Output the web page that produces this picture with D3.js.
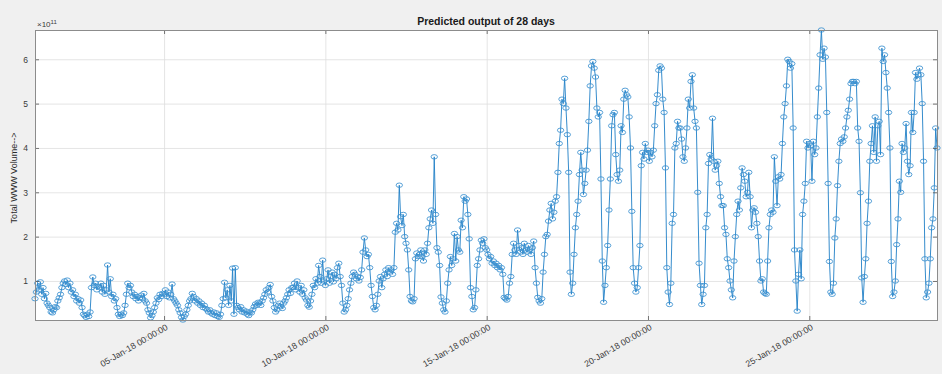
<!DOCTYPE html>
<html>
<head>
<meta charset="utf-8">
<script src="https://cdn.jsdelivr.net/npm/d3@7"></script>
<style>
  html, body { margin: 0; padding: 0; background: #f0f0f0; }
  svg { display: block; font-family: "Liberation Sans", Arial, Helvetica, sans-serif; }
</style>
</head>
<body>
<svg id="chart" width="942" height="374"></svg>
<script>
// Hourly predicted WWW volume, in units of 1e11, one row per day.
const startDate = "2018-01-01T00:00:00Z";

const week1 = [
  0.60,0.75,0.95,0.80,0.98,0.70,0.85,0.60,0.72,0.50,0.45,0.40,0.30,0.28,0.35,0.42,0.40,0.55,0.62,0.70,0.85,0.95,1.00,0.92,
  1.02,0.85,0.95,0.75,0.80,0.65,0.70,0.55,0.60,0.50,0.57,0.40,0.25,0.22,0.18,0.25,0.20,0.30,0.85,1.09,0.90,0.95,0.80,0.88,
  0.85,0.95,0.75,0.90,0.70,0.80,1.36,0.75,1.05,0.65,0.70,0.55,0.60,0.40,0.25,0.20,0.25,0.22,0.28,0.45,0.70,0.95,0.85,0.90,
  0.75,0.65,0.70,0.60,0.65,0.55,0.62,0.68,0.60,0.72,0.55,0.50,0.35,0.28,0.17,0.22,0.30,0.40,0.50,0.62,0.58,0.70,0.65,0.72,
  0.70,0.80,0.65,0.75,0.62,0.70,0.93,0.60,0.55,0.50,0.45,0.35,0.28,0.18,0.12,0.20,0.25,0.35,0.45,0.55,0.60,0.72,0.65,0.55,
  0.60,0.50,0.55,0.45,0.50,0.40,0.45,0.38,0.35,0.30,0.35,0.28,0.25,0.30,0.22,0.28,0.20,0.18,0.25,0.45,0.60,0.97,0.62,0.80,
  0.45,0.90,0.55,1.29,0.25,1.30,0.45,0.40,0.35,0.42,0.30,0.35,0.28,0.32,0.25,0.22,0.30,0.28,0.35,0.42,0.48,0.45,0.52,0.50
];
const week2 = [
  0.45,0.55,0.62,0.70,0.80,0.75,0.85,0.92,0.65,0.55,0.40,0.30,0.35,0.45,0.50,0.42,0.38,0.50,0.55,0.62,0.70,0.80,0.72,0.85,
  0.85,0.95,0.80,1.00,0.85,0.75,0.90,0.70,0.80,0.62,0.57,0.45,0.41,0.55,0.70,0.90,0.85,1.05,0.95,1.35,1.10,0.95,1.47,1.00,
  0.90,1.05,1.25,0.95,1.10,1.20,0.98,1.15,1.05,1.30,1.40,1.10,0.90,0.50,0.30,0.35,0.45,0.60,0.80,0.95,1.10,1.20,1.15,1.05,
  1.10,1.00,1.08,1.25,1.65,1.97,1.70,1.55,1.60,1.30,0.90,0.65,0.40,0.35,0.45,0.70,1.00,1.10,0.85,1.05,1.15,1.25,1.10,1.30,
  1.20,1.25,1.15,1.30,2.10,2.30,2.15,3.16,2.45,2.25,2.50,2.00,1.85,1.70,1.25,0.65,0.55,0.53,0.60,1.50,1.63,1.55,1.60,1.70,
  1.55,1.45,1.70,1.60,1.85,2.20,2.40,2.60,2.30,3.80,2.50,1.75,1.65,1.35,0.64,0.50,0.35,0.30,0.55,0.95,1.25,1.55,1.35,1.50,
  2.07,1.45,2.00,1.70,1.65,2.37,2.20,2.90,2.80,2.85,2.50,1.95,0.85,0.65,0.35,0.40,0.80,1.35,1.50,1.70,1.92,1.85,1.95,1.75
];
const week3 = [
  1.70,1.60,1.50,1.55,1.40,1.45,1.35,1.40,1.30,1.35,1.25,1.30,1.15,0.63,0.60,0.57,0.65,0.95,1.10,1.60,1.85,1.70,1.60,2.15,
  1.80,1.65,1.75,1.60,1.85,1.70,1.65,1.80,1.70,1.60,1.75,1.90,1.30,0.95,0.63,0.55,0.50,0.60,1.20,1.60,2.00,2.05,2.35,2.60,
  2.75,2.40,2.55,2.80,2.90,3.45,4.10,4.40,5.10,5.00,5.57,4.90,4.30,3.45,1.20,0.70,0.95,1.60,2.20,2.50,2.80,3.40,3.90,3.50,
  2.95,3.20,3.50,3.95,4.60,5.40,5.85,5.95,5.80,5.60,4.90,4.70,4.80,3.30,1.45,0.52,0.90,1.30,1.80,2.60,3.30,4.50,4.75,4.80,
  3.85,3.40,3.25,3.50,4.50,4.35,5.10,5.30,5.20,5.15,4.70,4.00,2.57,1.30,0.95,0.75,0.85,1.30,1.80,3.60,3.90,3.75,4.10,3.90,
  3.95,3.70,3.90,3.80,3.95,4.50,5.00,5.20,5.75,5.85,5.80,5.10,4.80,3.55,1.30,0.75,0.47,0.95,2.30,2.50,4.00,4.10,4.60,4.45,
  4.45,4.20,3.80,3.70,4.00,4.45,5.10,4.90,5.50,5.65,4.90,4.60,4.45,3.00,1.40,0.90,0.47,0.70,0.90,2.20,2.50,3.65,3.85,3.75
];
const week4 = [
  4.67,3.70,3.50,3.60,3.70,3.20,2.90,2.70,2.70,2.20,2.05,1.50,1.30,1.00,0.80,0.62,1.45,2.00,2.50,2.80,2.60,3.10,3.55,3.40,
  3.25,2.90,3.00,3.45,2.90,2.20,2.60,2.65,2.55,2.30,2.00,1.45,1.00,1.05,0.75,0.72,0.70,1.45,2.20,2.50,2.60,2.55,3.80,3.25,
  2.70,3.35,3.30,3.40,4.10,4.70,5.00,5.40,6.00,5.95,5.80,5.90,4.45,1.70,1.00,0.32,1.15,1.70,1.05,2.50,2.80,3.20,4.15,4.00,
  4.10,4.05,3.25,4.15,3.85,4.00,4.70,5.35,6.10,6.66,6.00,6.25,6.05,4.80,3.20,1.44,0.75,0.70,0.95,1.97,2.40,3.15,3.70,4.10,
  4.20,4.15,4.25,4.45,4.70,4.85,5.10,5.45,5.50,5.50,5.45,5.50,4.45,4.15,2.99,1.07,0.52,1.10,1.50,2.30,2.80,3.70,4.10,4.50,
  3.90,4.70,3.70,4.50,4.60,3.85,6.25,5.95,6.10,5.70,5.35,4.80,4.00,1.44,0.65,0.75,1.00,1.82,2.40,3.25,3.00,4.10,3.90,4.00,
  4.55,3.70,3.40,3.60,4.80,4.35,4.80,5.70,5.55,5.65,5.80,5.65,5.00,3.70,1.50,0.62,0.75,0.95,1.50,2.20,2.40,3.10,4.45,4.00
];

const yTicks = [1, 2, 3, 4, 5, 6];
const xTickDates = ["2018-01-05", "2018-01-10", "2018-01-15", "2018-01-20", "2018-01-25"];
const xTickLabels = ["05-Jan-18 00:00:00", "10-Jan-18 00:00:00", "15-Jan-18 00:00:00",
                     "20-Jan-18 00:00:00", "25-Jan-18 00:00:00"];
const titleText = "Predicted output of 28 days";
const yLabelText = "Total WWW Volume-->";
const exponent = "11";

// ---- build series ----
const volume = [...week1, ...week2, ...week3, ...week4];
const t0 = Date.parse(startDate);
const data = volume.map((v, i) => ({ t: new Date(t0 + i * 3600e3), v }));

const W = 942, H = 374;
const plot = { left: 35, right: 937, top: 30, bottom: 320 };

const svg = d3.select("#chart");
svg.append("rect").attr("width", W).attr("height", H).attr("fill", "#f0f0f0");

// tight limits, as with "axis tight"
const x = d3.scaleUtc().domain(d3.extent(data, d => d.t)).range([plot.left, plot.right]);
const y = d3.scaleLinear().domain(d3.extent(data, d => d.v)).range([plot.bottom, plot.top]);

// axes background
svg.append("rect")
  .attr("x", plot.left).attr("y", plot.top)
  .attr("width", plot.right - plot.left).attr("height", plot.bottom - plot.top)
  .attr("fill", "#ffffff");

const xTicks = xTickDates.map(s => new Date(s + "T00:00:00Z"));

// grid
const grid = svg.append("g").attr("stroke", "#dedede").attr("stroke-width", 0.8);
grid.selectAll("line.h").data(yTicks).join("line").attr("class", "h")
  .attr("x1", plot.left).attr("x2", plot.right)
  .attr("y1", d => y(d) + 0.5).attr("y2", d => y(d) + 0.5);
grid.selectAll("line.v").data(xTicks).join("line").attr("class", "v")
  .attr("x1", d => x(d) + 0.5).attr("x2", d => x(d) + 0.5)
  .attr("y1", plot.top).attr("y2", plot.bottom);

// series line and circle markers
svg.append("defs").append("clipPath").attr("id", "plotclip")
  .append("rect").attr("x", plot.left - 4).attr("y", plot.top - 4)
  .attr("width", plot.right - plot.left + 8).attr("height", plot.bottom - plot.top + 8);

const series = svg.append("g").attr("clip-path", "url(#plotclip)");
series.append("path")
  .datum(data)
  .attr("fill", "none")
  .attr("stroke", "#1f7fc6")
  .attr("stroke-width", 0.9)
  .attr("d", d3.line().x(d => x(d.t)).y(d => y(d.v)));

series.selectAll("ellipse").data(data).join("ellipse")
  .attr("cx", d => x(d.t)).attr("cy", d => y(d.v))
  .attr("rx", 3.2).attr("ry", 2.2)
  .attr("fill", "none")
  .attr("stroke", "#3a90d0")
  .attr("stroke-width", 0.85);

// axes with inward ticks on all four sides
const tickColor = "#555";
function styleAxis(g) {
  g.select(".domain").remove();
  g.selectAll(".tick line").attr("stroke", tickColor).attr("stroke-width", 0.8);
  g.selectAll(".tick text").attr("fill", "#3a3a3a");
}

svg.append("g").attr("transform", `translate(${plot.left},0)`)
  .call(d3.axisLeft(y).tickValues(yTicks).tickSize(-4).tickPadding(7).tickFormat(d3.format("d")))
  .call(styleAxis)
  .call(g => g.selectAll("text").attr("font-size", 8.5).attr("font-family", "Liberation Sans, Arial"));

svg.append("g").attr("transform", `translate(${plot.right},0)`)
  .call(d3.axisRight(y).tickValues(yTicks).tickSize(-4).tickFormat(""))
  .call(styleAxis);

svg.append("g").attr("transform", `translate(0,${plot.top})`)
  .call(d3.axisTop(x).tickValues(xTicks).tickSize(-4).tickFormat(""))
  .call(styleAxis);

const xAxis = svg.append("g").attr("transform", `translate(0,${plot.bottom})`)
  .call(d3.axisBottom(x).tickValues(xTicks).tickSize(-4).tickFormat((d, i) => xTickLabels[i]))
  .call(styleAxis);
xAxis.selectAll(".tick text")
  .attr("font-size", 8.8)
  .attr("font-family", "Liberation Sans, Arial")
  .attr("text-anchor", "end")
  .attr("dy", 0)
  .attr("y", 0)
  .attr("transform", "translate(4,9) rotate(-30)");

// axes box
svg.append("rect")
  .attr("x", plot.left + 0.5).attr("y", plot.top + 0.5)
  .attr("width", plot.right - plot.left).attr("height", plot.bottom - plot.top)
  .attr("fill", "none").attr("stroke", "#8c8c8c").attr("stroke-width", 1);

// exponent label
const expo = svg.append("text").attr("x", plot.left + 2).attr("y", 27)
  .attr("font-size", 8).attr("fill", "#3a3a3a");
expo.append("tspan").text("\u00d710");
expo.append("tspan").attr("dy", -3.5).attr("font-size", 6).text(exponent);

// title
svg.append("text")
  .attr("x", (plot.left + plot.right) / 2).attr("y", 25)
  .attr("text-anchor", "middle")
  .attr("font-size", 10.5).attr("font-weight", "bold").attr("fill", "#1a1a1a")
  .text(titleText);

// y label
svg.append("text")
  .attr("transform", `translate(17,${(plot.top + plot.bottom) / 2 + 3}) rotate(-90)`)
  .attr("text-anchor", "middle")
  .attr("font-size", 9).attr("fill", "#2a2a2a")
  .text(yLabelText);
</script>
</body>
</html>
